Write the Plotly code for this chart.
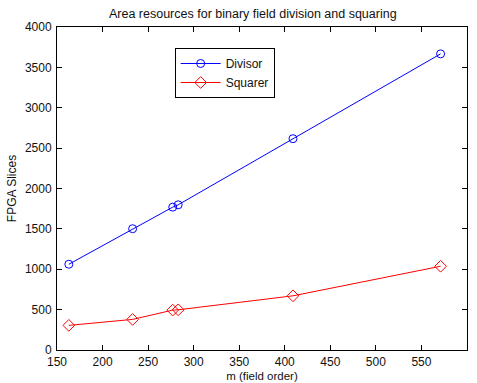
import plotly.graph_objects as go

m = [163, 233, 277, 283, 409, 571]
divisor = [1062, 1502, 1769, 1798, 2617, 3667]
squarer = [305, 379, 494, 498, 671, 1037]
x_ticks = [150, 200, 250, 300, 350, 400, 450, 500, 550, 600]
y_ticks = [0, 500, 1000, 1500, 2000, 2500, 3000, 3500, 4000]

fig = go.Figure()
fig.add_trace(go.Scatter(x=m, y=divisor, mode="lines+markers", name="Divisor",
                         line=dict(color="#0000ff", width=1),
                         marker=dict(symbol="circle-open", size=8, color="#0000ff", line=dict(width=1))))
fig.add_trace(go.Scatter(x=m, y=squarer, mode="lines+markers", name="Squarer",
                         line=dict(color="#ff0000", width=1),
                         marker=dict(symbol="diamond-open", size=9, color="#ff0000", line=dict(width=1))))

axis_common = dict(showgrid=False, zeroline=False, showline=True, linecolor="black", linewidth=1,
                   mirror="ticks", ticks="inside", ticklen=5, tickcolor="black", automargin=False,
                   tickfont=dict(family="Liberation Sans, Arial", size=12, color="#111"))

fig.update_layout(
    width=477, height=383,
    margin=dict(l=57, r=10, t=27, b=33),
    paper_bgcolor="white", plot_bgcolor="white",
    font=dict(family="Liberation Sans, Arial", color="#111"),
    title=dict(text="Area resources for binary field division and squaring", x=0.53, xanchor="center",
               y=0.965, yanchor="middle", font=dict(size=12.5)),
    xaxis=dict(range=[150, 600], tickvals=x_ticks, ticklabelstandoff=1,
               title=dict(text="m (field order)", font=dict(size=11.5), standoff=3), **axis_common),
    yaxis=dict(range=[0, 4000], tickvals=y_ticks, ticklabelstandoff=2,
               title=dict(text="FPGA Slices", font=dict(size=12), standoff=5), **axis_common),
    legend=dict(x=0.287, y=0.935, xanchor="left", yanchor="top", bordercolor="black", borderwidth=1,
                bgcolor="white", font=dict(size=12), tracegroupgap=0, itemwidth=40),
    showlegend=True,
)

fig.write_html("out.html")
